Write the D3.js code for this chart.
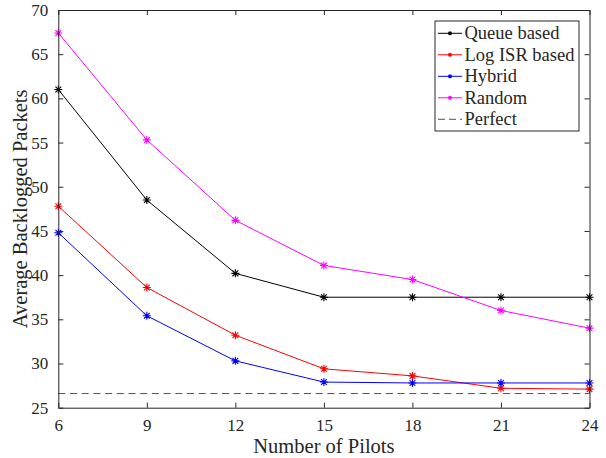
<!DOCTYPE html>
<html>
<head>
  <meta charset="UTF-8">
  <script src="https://d3js.org/d3.v7.min.js"></script>
  <style>
    body { margin: 0; background: #fff; }
    svg text { font-family: "Liberation Serif", "Times New Roman", serif; fill: #262626; }
  </style>
</head>
<body>
  <svg id="chart" width="606" height="458"></svg>
  <script>
    // data
    const pilots = [6, 9, 12, 15, 18, 21, 24];
    const queueBased = [61.0, 48.5, 40.2, 37.5, 37.5, 37.5, 37.5];
    const logIsrBased = [47.8, 38.6, 33.2, 29.4, 28.6, 27.2, 27.1];
    const hybrid = [44.8, 35.4, 30.3, 27.9, 27.8, 27.8, 27.8];
    const random = [67.4, 55.3, 46.2, 41.1, 39.5, 36.0, 34.0];
    const perfect = 26.6;
    const xTicks = [6, 9, 12, 15, 18, 21, 24];
    const yTicks = [25, 30, 35, 40, 45, 50, 55, 60, 65, 70];

    const series = [
      { name: "Queue based", values: queueBased, color: "#000000" },
      { name: "Log ISR based", values: logIsrBased, color: "#ff0000" },
      { name: "Hybrid", values: hybrid, color: "#0000ff" },
      { name: "Random", values: random, color: "#ff00ff" }
    ];

    const svg = d3.select("#chart");
    const margin = { top: 10, right: 16.5, bottom: 50.3, left: 58.3 };
    const width = 606 - margin.left - margin.right;
    const height = 458 - margin.top - margin.bottom;
    const axisColor = "#262626";

    const x = d3.scaleLinear().domain([6, 24]).range([0, width]);
    const y = d3.scaleLinear().domain([25, 70]).range([height, 0]);

    const g = svg.append("g")
      .attr("transform", "translate(" + margin.left + "," + margin.top + ")");

    // star marker like matlab '*'
    function star(s) {
      const d = s / 2, k = d * 0.72;
      return "M" + (-d) + ",0L" + d + ",0M0," + (-d) + "L0," + d +
        "M" + (-k) + "," + (-k) + "L" + k + "," + k +
        "M" + (-k) + "," + k + "L" + k + "," + (-k);
    }

    // perfect (dashed)
    g.append("line")
      .attr("x1", x(6)).attr("x2", x(24))
      .attr("y1", y(perfect)).attr("y2", y(perfect))
      .attr("stroke", "#7e2f8e")
      .attr("stroke-width", 1)
      .attr("stroke-dasharray", "7,4.7");

    const line = d3.line()
      .x((d, i) => x(pilots[i]))
      .y(d => y(d));

    series.forEach(s => {
      g.append("path")
        .datum(s.values)
        .attr("fill", "none")
        .attr("stroke", s.color)
        .attr("stroke-width", 1)
        .attr("d", line);

      g.selectAll(null).data(s.values).join("path")
        .attr("transform", (d, i) => "translate(" + x(pilots[i]) + "," + y(d) + ")")
        .attr("d", star(8))
        .attr("stroke", s.color)
        .attr("stroke-width", 1.1)
        .attr("fill", "none");
    });

    // axes box with inward ticks on all sides
    const tickLen = 5;
    const xAxis = g.append("g").attr("transform", "translate(0," + height + ")")
      .call(d3.axisBottom(x).tickValues(xTicks).tickSizeInner(-tickLen).tickSizeOuter(0).tickPadding(11));
    const xTop = g.append("g")
      .call(d3.axisTop(x).tickValues(xTicks).tickSizeInner(-tickLen).tickSizeOuter(0).tickFormat(""));
    const yAxis = g.append("g")
      .call(d3.axisLeft(y).tickValues(yTicks).tickSizeInner(-tickLen).tickSizeOuter(0).tickPadding(10));
    const yRight = g.append("g").attr("transform", "translate(" + width + ",0)")
      .call(d3.axisRight(y).tickValues(yTicks).tickSizeInner(-tickLen).tickSizeOuter(0).tickFormat(""));

    [xAxis, xTop, yAxis, yRight].forEach(a => {
      a.selectAll("path.domain").attr("stroke", axisColor).attr("stroke-width", 1);
      a.selectAll(".tick line").attr("stroke", axisColor).attr("stroke-width", 1);
      a.selectAll(".tick text")
        .attr("fill", axisColor)
        .style("font-family", '"Liberation Serif", "Times New Roman", serif')
        .style("font-size", "17px");
    });

    // axis labels
    g.append("text")
      .attr("x", width / 2)
      .attr("y", height + 45)
      .attr("text-anchor", "middle")
      .style("font-size", "20.5px")
      .text("Number of Pilots");

    g.append("text")
      .attr("transform", "translate(" + (-31.5) + "," + (height / 2) + ") rotate(-90)")
      .attr("text-anchor", "middle")
      .style("font-size", "20.5px")
      .text("Average Backlogged Packets");

    // legend
    const legendItems = series.map(s => ({ name: s.name, color: s.color, dashed: false }))
      .concat([{ name: "Perfect", color: "#7e2f8e", dashed: true }]);

    const legend = svg.append("g").attr("transform", "translate(435,21)");
    legend.append("rect")
      .attr("width", 144).attr("height", 110)
      .attr("fill", "#fff")
      .attr("stroke", axisColor)
      .attr("stroke-width", 1);

    const rows = legend.selectAll("g.row").data(legendItems).join("g")
      .attr("class", "row")
      .attr("transform", (d, i) => "translate(0," + (12.3 + i * 21.5) + ")");

    rows.append("line")
      .attr("x1", 3).attr("x2", 27)
      .attr("stroke", d => d.color)
      .attr("stroke-width", 1)
      .attr("stroke-dasharray", d => d.dashed ? "7,4" : null);

    rows.filter(d => !d.dashed).append("path")
      .attr("transform", "translate(15,0)")
      .attr("d", star(4))
      .attr("stroke", d => d.color)
      .attr("stroke-width", 1.1)
      .attr("fill", "none");

    rows.append("text")
      .attr("x", 29.5)
      .attr("y", 6)
      .style("font-size", "18.5px")
      .attr("fill", "#000")
      .text(d => d.name);
  </script>
</body>
</html>
